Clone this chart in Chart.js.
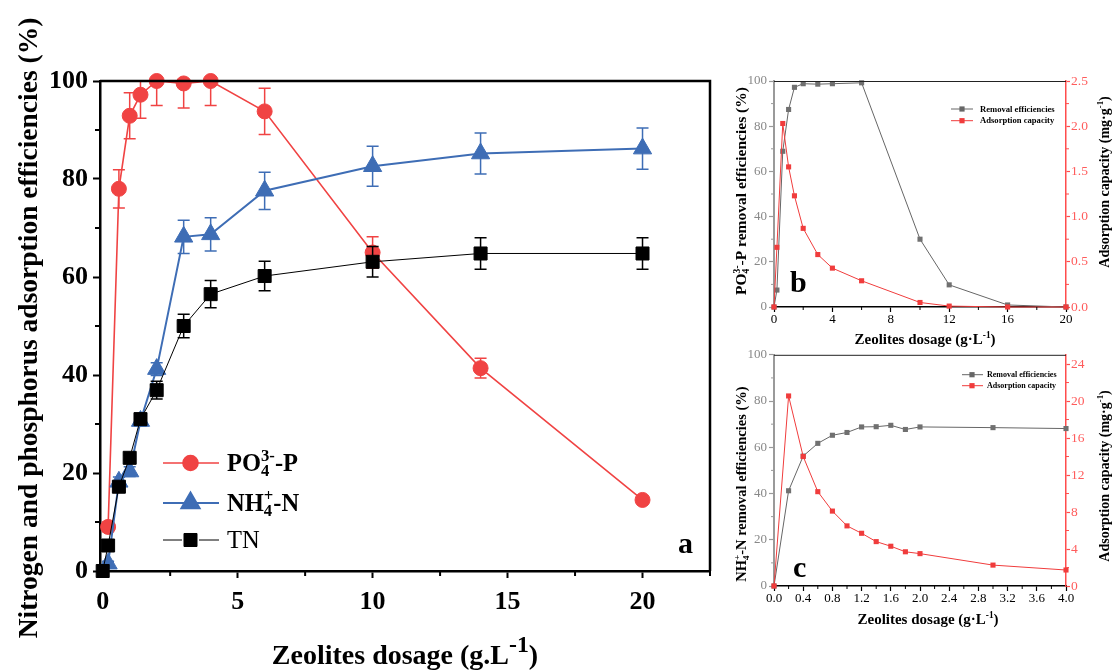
<!DOCTYPE html>
<html><head><meta charset="utf-8">
<script src="https://cdn.jsdelivr.net/npm/chart.js@4/dist/chart.umd.min.js"></script>
<style>
html,body{margin:0;padding:0;background:#fff;}
#wrap{position:relative;width:1115px;height:670px;overflow:hidden;background:#fff;}
canvas{position:absolute;}
</style></head><body>
<div id="wrap">
<canvas id="ca" width="730" height="670" style="left:0px;top:0px"></canvas>
<canvas id="cb" width="385" height="280" style="left:730px;top:70px"></canvas>
<canvas id="cc" width="385" height="290" style="left:730px;top:345px"></canvas>
</div>
<script>
// ---------- Panel a data ----------
const dosageA = [0, 0.2, 0.6, 1.0, 1.4, 2, 3, 4, 6, 10, 14, 20];
const po4A    = [null, 9, 78, 92.9, 97.2, 100, 99.5, 100, 93.8, 65, 41.4, 14.5];
const po4ErrA = [0, 1, 3.9, 4.7, 4.8, 5, 5, 5, 4.7, 3.2, 2, 0];
const nh4A    = [null, 1.5, 18.2, 20.3, 30.6, 41.2, 68.2, 68.7, 77.6, 82.6, 85.2, 86.2];
const nh4ErrA = [0, 0.5, 1, 1, 1, 1.3, 3.4, 3.4, 3.8, 4.1, 4.2, 4.2];
const tnA     = [0, 5.2, 17.2, 23.1, 31, 36.9, 50, 56.5, 60.2, 63.1, 64.8, 64.8];
const tnErrA  = [0, 0.5, 0.5, 0.5, 1, 1.8, 2.4, 2.8, 3, 3.1, 3.2, 3.2];
const xTicksA = [0, 5, 10, 15, 20];
const xMinorA = [2.5, 7.5, 12.5, 17.5, 22.5];
const yTicksA = [0, 20, 40, 60, 80, 100];
const yMinorA = [10, 30, 50, 70, 90];

// ---------- Panel b data ----------
const dosageB   = [0, 0.2, 0.6, 1.0, 1.4, 2, 3, 4, 6, 10, 12, 16, 20];
const removalB  = [0, 7.5, 68.9, 87.4, 97.2, 98.8, 98.6, 98.8, 99.2, 30, 9.8, 0.9, 0];
const capacityB = [0, 0.66, 2.03, 1.55, 1.23, 0.87, 0.58, 0.43, 0.29, 0.05, 0.01, 0, 0];
const xTicksB  = [0, 4, 8, 12, 16, 20];
const xMinorB  = [2, 6, 10, 14, 18];
const yTicksB  = [0, 20, 40, 60, 80, 100];
const yMinorB  = [10, 30, 50, 70, 90];
const y1TicksB = [0, 0.5, 1.0, 1.5, 2.0, 2.5];
const y1MinorB = [0.25, 0.75, 1.25, 1.75, 2.25];

// ---------- Panel c data ----------
const dosageC   = [0, 0.2, 0.4, 0.6, 0.8, 1.0, 1.2, 1.4, 1.6, 1.8, 2.0, 3.0, 4.0];
const removalC  = [0, 41.2, 56.2, 61.7, 65.2, 66.4, 68.8, 68.9, 69.5, 67.7, 68.8, 68.5, 68.1];
const capacityC = [0, 20.55, 14.0, 10.2, 8.1, 6.5, 5.7, 4.8, 4.3, 3.7, 3.5, 2.26, 1.73];
const xTicksC  = [0, 0.4, 0.8, 1.2, 1.6, 2.0, 2.4, 2.8, 3.2, 3.6, 4.0];
const xMinorC  = [0.2, 0.6, 1.0, 1.4, 1.8, 2.2, 2.6, 3.0, 3.4, 3.8];
const yTicksC  = [0, 20, 40, 60, 80, 100];
const yMinorC  = [10, 30, 50, 70, 90];
const y1TicksC = [0, 4, 8, 12, 16, 20, 24];
const y1MinorC = [2, 6, 10, 14, 18, 22];

// ---------- styling ----------
const SERIF = '"Liberation Serif", "Times New Roman", serif';
const RED = '#F04343', BLUE = '#3E6DB5', BLACK = '#000000';
const GRAYL = '#666666', REDB = '#F03C3C';
const AXGRAY = '#9a9a9a', LBLGRAY = '#888888', AXRED = '#ff4d4d', LBLRED = '#ff5c5c';

function fontStr(size, weight){ return (weight||'bold') + ' ' + size + 'px ' + SERIF; }
function richLayout(ctx, segs, size, weight){
  let w = 0; const parts = [];
  for (const s of segs){
    if (s.t !== undefined){
      ctx.font = fontStr(size, weight);
      parts.push({t:s.t, x:w, dy:0, size:size}); w += ctx.measureText(s.t).width;
    } else {
      const ss = size * (s.scale || 0.62); ctx.font = fontStr(ss, weight); let mw = 0;
      if (s.sub !== undefined){ parts.push({t:s.sub, x:w, dy:size*0.22, size:ss}); mw = Math.max(mw, ctx.measureText(s.sub).width); }
      if (s.sup !== undefined){ parts.push({t:s.sup, x:w, dy:-size*(s.rise||0.4), size:ss}); mw = Math.max(mw, ctx.measureText(s.sup).width); }
      w += mw + (s.gap||0);
    }
  }
  return {w, parts};
}
function drawRich(ctx, segs, x, y, o){
  ctx.save(); ctx.translate(x, y); if (o.rotate) ctx.rotate(o.rotate);
  const wt = o.weight || 'bold';
  const L = richLayout(ctx, segs, o.size, wt);
  const x0 = o.align === 'left' ? 0 : -L.w/2;
  ctx.fillStyle = o.color || '#000'; ctx.textBaseline = 'alphabetic'; ctx.textAlign = 'left';
  for (const p of L.parts){ ctx.font = fontStr(p.size, wt); ctx.fillText(p.t, x0 + p.x, p.dy); }
  ctx.restore();
}
function minorTicks(chart, axisId, values, len, color, width){
  const s = chart.scales[axisId], ctx = chart.ctx, ca = chart.chartArea;
  ctx.save(); ctx.strokeStyle = color; ctx.lineWidth = width; ctx.beginPath();
  values.forEach(v => {
    const p = s.getPixelForValue(v);
    if (s.axis === 'x'){ ctx.moveTo(p, ca.bottom); ctx.lineTo(p, ca.bottom + len); }
    else if (s.position === 'left'){ ctx.moveTo(ca.left, p); ctx.lineTo(ca.left - len, p); }
    else { ctx.moveTo(ca.right, p); ctx.lineTo(ca.right + len, p); }
  });
  ctx.stroke(); ctx.restore();
}
function pts(xs, ys, es){
  const out = [];
  xs.forEach((x, i) => { if (ys[i] !== null) out.push({x:x, y:ys[i], e: es ? es[i] : 0}); });
  return out;
}
const errorBars = {
  id: 'errorBars',
  beforeDatasetDraw(chart, args){
    const ds = chart.data.datasets[args.index];
    if (!ds.errColor) return;
    const meta = args.meta, ctx = chart.ctx, ys = chart.scales[meta.yAxisID], ca = chart.chartArea;
    ctx.save(); ctx.beginPath(); ctx.rect(ca.left - 20, ca.top, ca.right - ca.left + 40, ca.bottom - ca.top + 30); ctx.clip();
    ctx.strokeStyle = ds.errColor; ctx.lineWidth = 1.5; ctx.beginPath();
    ds.data.forEach((d, i) => {
      if (!d.e) return;
      const x = meta.data[i].x, yT = ys.getPixelForValue(d.y + d.e), yB = ys.getPixelForValue(d.y - d.e);
      ctx.moveTo(x, yT); ctx.lineTo(x, yB);
      ctx.moveTo(x - 6, yT); ctx.lineTo(x + 6, yT);
      ctx.moveTo(x - 6, yB); ctx.lineTo(x + 6, yB);
    });
    ctx.stroke(); ctx.restore();
  }
};
function fixedTicks(arr){ return s => { s.ticks = arr.map(v => ({value: v})); }; }
function axisX(min, max, ticks, h, o){
  return { type:'linear', min:min, max:max, afterBuildTicks: fixedTicks(ticks), afterFit: s => { s.height = h; },
    grid:{ drawOnChartArea:false, drawTicks:true, tickLength:o.tl, tickColor:o.color, tickWidth:o.tw },
    border:{ display:true, color:o.color, width:o.bw },
    ticks:{ font:{family:SERIF, size:o.fs, weight:o.fw}, color:o.lc, padding:o.pad, maxRotation:0, autoSkip:false,
      callback: v => o.fmt ? o.fmt(v) : String(v) } };
}
function axisY(min, max, ticks, w, pos, o){
  return { type:'linear', position:pos, min:min, max:max, afterBuildTicks: fixedTicks(ticks), afterFit: s => { s.width = w; },
    grid:{ drawOnChartArea:false, drawTicks:true, tickLength:o.tl, tickColor:o.color, tickWidth:o.tw },
    border:{ display:true, color:o.color, width:o.bw },
    ticks:{ font:{family:SERIF, size:o.fs, weight:o.fw}, color:o.lc, padding:o.pad, autoSkip:false,
      callback: v => o.fmt ? o.fmt(v) : String(v) } };
}
const baseOpts = { responsive:false, animation:false, devicePixelRatio:1, events:[],
  plugins:{ legend:{display:false}, tooltip:{enabled:false} } };

// ================= Panel a =================
new Chart(document.getElementById('ca'), {
  type:'line',
  data:{ datasets:[
    { label:'PO4', data:pts(dosageA, po4A, po4ErrA), borderColor:RED, backgroundColor:RED, borderWidth:1.6,
      pointStyle:'circle', pointRadius:7.5, pointBorderColor:RED, pointBackgroundColor:RED, pointBorderWidth:1,
      tension:0, order:3, clip:false, errColor:RED },
    { label:'NH4', data:pts(dosageA, nh4A, nh4ErrA), borderColor:BLUE, backgroundColor:BLUE, borderWidth:2,
      pointStyle:'triangle', pointRadius:10.5, pointBorderColor:BLUE, pointBackgroundColor:BLUE, pointBorderWidth:1,
      tension:0, order:2, clip:false, errColor:BLUE },
    { label:'TN', data:pts(dosageA, tnA, tnErrA), borderColor:BLACK, backgroundColor:BLACK, borderWidth:1,
      pointStyle:'rect', pointRadius:9.2, pointBorderColor:BLACK, pointBackgroundColor:BLACK, pointBorderWidth:1,
      tension:0, order:1, clip:false, errColor:BLACK }
  ]},
  options: Object.assign({}, baseOpts, {
    layout:{ padding:{ left:0, top:81, right:20, bottom:0 } },
    scales:{
      x: axisX(-0.1, 22.5, xTicksA, 99, {tl:7, color:'#000', tw:2, bw:2.5, fs:26, fw:'bold', lc:'#000', pad:9}),
      y: axisY(0, 100, yTicksA, 100, 'left', {tl:7, color:'#000', tw:2, bw:2.5, fs:26, fw:'bold', lc:'#000', pad:5})
    }
  }),
  plugins:[errorBars, { id:'decoA', afterDraw(chart){
    const ctx = chart.ctx, ca = chart.chartArea;
    ctx.save(); ctx.strokeStyle = '#000'; ctx.lineWidth = 2.5; ctx.beginPath();
    ctx.moveTo(ca.left, ca.top); ctx.lineTo(ca.right, ca.top); ctx.lineTo(ca.right, ca.bottom); ctx.stroke(); ctx.restore();
    minorTicks(chart, 'x', xMinorA, 5, '#000', 2);
    minorTicks(chart, 'y', yMinorA, 5, '#000', 2);
    // axis titles
    drawRich(ctx, [{t:'Nitrogen and phosphorus adsorption efficiencies (%)'}], 37, 328, {size:27.5, rotate:-Math.PI/2});
    drawRich(ctx, [{t:'Zeolites dosage (g'},{t:'.'},{t:'L'},{sup:'-1', scale:0.85, rise:0.42},{t:')'}], 405, 664, {size:28});
    // legend
    const rows = [
      {y:463, c:RED, m:'circle', segs:[{t:'PO'},{sub:'4', sup:'3-', scale:0.68}, {t:'-P'}], w:'bold'},
      {y:503, c:BLUE, m:'triangle', segs:[{t:'NH'},{sub:'4', sup:'+', scale:0.68}, {t:'-N'}], w:'bold'},
      {y:540, c:BLACK, m:'rect', segs:[{t:'TN'}], w:'normal'}
    ];
    rows.forEach(r => {
      ctx.save(); ctx.strokeStyle = r.c; ctx.fillStyle = r.c; ctx.lineWidth = r.m === 'triangle' ? 2 : (r.m === 'rect' ? 1 : 1.6);
      ctx.beginPath();
      if (r.m === 'rect'){ ctx.moveTo(163, r.y); ctx.lineTo(182, r.y); ctx.moveTo(199, r.y); ctx.lineTo(219, r.y); }
      else { ctx.moveTo(163, r.y); ctx.lineTo(219, r.y); }
      ctx.stroke();
      const rad = r.m === 'circle' ? 7.5 : (r.m === 'triangle' ? 10.5 : 9.2);
      Chart.helpers.drawPoint(ctx, {pointStyle:r.m, radius:rad, borderWidth:1}, 190.5, r.y);
      ctx.restore();
      drawRich(ctx, r.segs, 227, r.y + 8, {size:24.5, align:'left', weight:r.w});
    });
    ctx.save(); ctx.fillStyle = '#000'; ctx.font = fontStr(30, 'bold'); ctx.textBaseline = 'alphabetic'; ctx.fillText('a', 678, 553); ctx.restore();
  }}]
});

// helper for b/c legend
function smallLegend(ctx, x1, x2, xm, xt, y, color, text, size){
  ctx.save(); ctx.strokeStyle = color; ctx.fillStyle = color; ctx.lineWidth = 1;
  ctx.beginPath(); ctx.moveTo(x1, y); ctx.lineTo(x2, y); ctx.stroke();
  ctx.fillRect(xm - 2.6, y - 2.6, 5.2, 5.2);
  ctx.fillStyle = '#000'; ctx.font = fontStr(size, 'bold'); ctx.textBaseline = 'middle'; ctx.fillText(text, xt, y + 0.5);
  ctx.restore();
}

// ================= Panel b =================
(function(){
  const OX = 730, OY = 70;
  new Chart(document.getElementById('cb'), {
    type:'line',
    data:{ datasets:[
      { label:'Removal efficiencies', data:pts(dosageB, removalB), yAxisID:'y', borderColor:GRAYL, backgroundColor:'#707070',
        borderWidth:1, pointStyle:'rect', pointRadius:3.6, pointBorderWidth:0, pointBackgroundColor:'#707070', tension:0, clip:false, order:2 },
      { label:'Adsorption capacity', data:pts(dosageB, capacityB), yAxisID:'y1', borderColor:REDB, backgroundColor:REDB,
        borderWidth:1, pointStyle:'rect', pointRadius:3.6, pointBorderWidth:0, pointBackgroundColor:REDB, tension:0, clip:false, order:1 }
    ]},
    options: Object.assign({}, baseOpts, {
      layout:{ padding:{ left:0, top:11, right:0, bottom:0 } },
      scales:{
        x: axisX(0, 20, xTicksB, 43, {tl:5, color:'#000', tw:1.2, bw:1.5, fs:13, fw:'normal', lc:'#000', pad:0}),
        y: axisY(0, 100, yTicksB, 44, 'left', {tl:5, color:AXGRAY, tw:1.2, bw:2, fs:13, fw:'normal', lc:LBLGRAY, pad:2}),
        y1: axisY(0, 2.5, y1TicksB, 49, 'right', {tl:4, color:AXRED, tw:1.2, bw:1.5, fs:13.5, fw:'normal', lc:LBLRED, pad:1, fmt: v => v.toFixed(1)})
      }
    }),
    plugins:[{ id:'decoB', afterDraw(chart){
      const ctx = chart.ctx, ca = chart.chartArea;
      ctx.save(); ctx.strokeStyle = '#222'; ctx.lineWidth = 1; ctx.beginPath();
      ctx.moveTo(ca.left, ca.top + 0.5); ctx.lineTo(ca.right, ca.top + 0.5); ctx.stroke(); ctx.restore();
      minorTicks(chart, 'x', xMinorB, 3, '#000', 1);
      minorTicks(chart, 'y', yMinorB, 3, AXGRAY, 1);
      minorTicks(chart, 'y1', y1MinorB, 3, AXRED, 1);
      drawRich(ctx, [{t:'PO'},{sub:'4', sup:'3-'},{t:'-P removal efficiencies (%)'}], 746 - OX, 191 - OY, {size:15.5, rotate:-Math.PI/2});
      drawRich(ctx, [{t:'Adsorption capacity (mg\u00B7g'},{sup:'-1'},{t:')'}], 1109 - OX, 182 - OY, {size:14, rotate:-Math.PI/2});
      drawRich(ctx, [{t:'Zeolites dosage (g\u00B7L'},{sup:'-1'},{t:')'}], 925 - OX, 344 - OY, {size:15});
      smallLegend(ctx, 951 - OX, 973 - OX, 962 - OX, 980 - OX, 109 - OY, GRAYL, 'Removal efficiencies', 8.6);
      smallLegend(ctx, 951 - OX, 973 - OX, 962 - OX, 980 - OX, 120.7 - OY, REDB, 'Adsorption capacity', 8.6);
      ctx.save(); ctx.fillStyle = '#000'; ctx.font = fontStr(30, 'bold'); ctx.textBaseline = 'alphabetic'; ctx.fillText('b', 790 - OX, 292 - OY); ctx.restore();
    }}]
  });
})();

// ================= Panel c =================
(function(){
  const OX = 730, OY = 345;
  new Chart(document.getElementById('cc'), {
    type:'line',
    data:{ datasets:[
      { label:'Removal efficiencies', data:pts(dosageC, removalC), yAxisID:'y', borderColor:GRAYL, backgroundColor:'#707070',
        borderWidth:1, pointStyle:'rect', pointRadius:3.6, pointBorderWidth:0, pointBackgroundColor:'#707070', tension:0, clip:false, order:2 },
      { label:'Adsorption capacity', data:pts(dosageC, capacityC), yAxisID:'y1', borderColor:REDB, backgroundColor:REDB,
        borderWidth:1, pointStyle:'rect', pointRadius:3.6, pointBorderWidth:0, pointBackgroundColor:REDB, tension:0, clip:false, order:1 }
    ]},
    options: Object.assign({}, baseOpts, {
      layout:{ padding:{ left:0, top:6, right:0, bottom:0 } },
      scales:{
        x: axisX(0, 4, xTicksC, 49, {tl:5, color:'#000', tw:1.2, bw:1.5, fs:13, fw:'normal', lc:'#000', pad:0, fmt: v => v.toFixed(1)}),
        y: axisY(0, 100, yTicksC, 44, 'left', {tl:5, color:AXGRAY, tw:1.2, bw:2, fs:13, fw:'normal', lc:LBLGRAY, pad:2}),
        y1: axisY(0, 25, y1TicksC, 49, 'right', {tl:4, color:AXRED, tw:1.2, bw:1.5, fs:13.5, fw:'normal', lc:LBLRED, pad:1})
      }
    }),
    plugins:[{ id:'decoC', afterDraw(chart){
      const ctx = chart.ctx, ca = chart.chartArea;
      ctx.save(); ctx.strokeStyle = '#222'; ctx.lineWidth = 1; ctx.beginPath();
      ctx.moveTo(ca.left, ca.top + 0.5); ctx.lineTo(ca.right, ca.top + 0.5); ctx.stroke(); ctx.restore();
      minorTicks(chart, 'x', xMinorC, 3, '#000', 1);
      minorTicks(chart, 'y', yMinorC, 3, AXGRAY, 1);
      minorTicks(chart, 'y1', y1MinorC, 3, AXRED, 1);
      drawRich(ctx, [{t:'NH'},{sub:'4', sup:'+'},{t:'-N removal efficiencies (%)'}], 746 - OX, 484 - OY, {size:14.5, rotate:-Math.PI/2});
      drawRich(ctx, [{t:'Adsorption capacity (mg\u00B7g'},{sup:'-1'},{t:')'}], 1109 - OX, 476 - OY, {size:14, rotate:-Math.PI/2});
      drawRich(ctx, [{t:'Zeolites dosage (g\u00B7L'},{sup:'-1'},{t:')'}], 928 - OX, 624 - OY, {size:15});
      smallLegend(ctx, 962 - OX, 983 - OX, 972 - OX, 987 - OX, 374.7 - OY, GRAYL, 'Removal efficiencies', 8);
      smallLegend(ctx, 962 - OX, 983 - OX, 972 - OX, 987 - OX, 385.7 - OY, REDB, 'Adsorption capacity', 8);
      ctx.save(); ctx.fillStyle = '#000'; ctx.font = fontStr(30, 'bold'); ctx.textBaseline = 'alphabetic'; ctx.fillText('c', 793 - OX, 577 - OY); ctx.restore();
    }}]
  });
})();
</script>
</body></html>
